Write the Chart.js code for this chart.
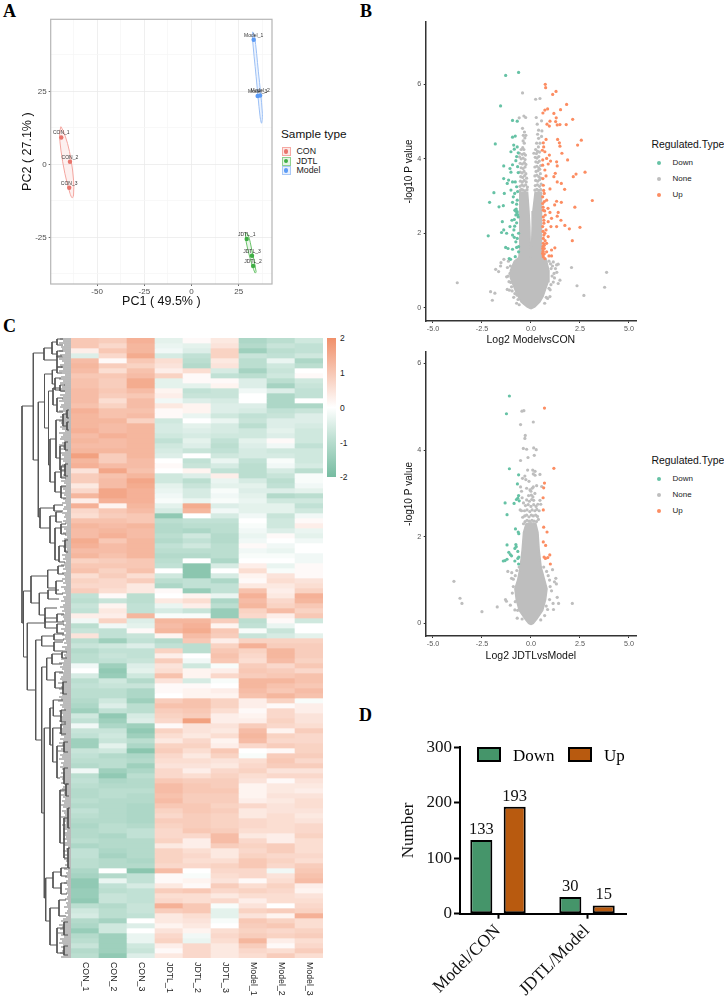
<!DOCTYPE html>
<html>
<head>
<meta charset="utf-8">
<script src="https://cdn.jsdelivr.net/npm/chart.js@4"></script>
<style>
  html, body { margin: 0; padding: 0; background: #fff; }
  #page { position: relative; width: 724px; height: 1001px; overflow: hidden; font-family: 'Liberation Sans', sans-serif; }
  canvas { position: absolute; }
  .t { position: absolute; white-space: nowrap; line-height: 1; }
  .letter { font: bold 18px 'Liberation Serif', serif; }
  .dot { position: absolute; width: 4px; height: 4px; border-radius: 50%; }
  .key { position: absolute; width: 7px; height: 7px; box-sizing: content-box; border: 1px solid; }
  .key i { position: absolute; left: 1.2px; top: 1.2px; width: 4.6px; height: 4.6px; border-radius: 50%; }
  .dbox { position: absolute; width: 20px; height: 11px; border: 2px solid #000; }
</style>
</head>
<body>
<div id="page">
  <div class="t letter" style="left:3px;top:1px">A</div>
  <div class="t letter" style="left:360px;top:1px">B</div>
  <div class="t letter" style="left:3px;top:316px">C</div>
  <div class="t letter" style="left:359px;top:705px">D</div>

  <canvas id="pca"></canvas>
  <div class="t" style="left:281px;top:129px;font-size:11.8px;color:#111">Sample type</div>
  <div class="key" style="left:281.5px;top:147px;border-color:#F6A9A3;background:#FBE9E7"><i style="background:#E8746C"></i></div>
  <div class="key" style="left:281.5px;top:156.5px;border-color:#8FD08F;background:#E6F4E6"><i style="background:#3FAE45"></i></div>
  <div class="key" style="left:281.5px;top:166px;border-color:#A9C8F7;background:#E8F0FC"><i style="background:#5C9BF5"></i></div>
  <div class="t" style="left:296.5px;top:147px;font-size:8.8px;color:#222">CON</div>
  <div class="t" style="left:296.5px;top:156.5px;font-size:8.8px;color:#222">JDTL</div>
  <div class="t" style="left:296.5px;top:166px;font-size:8.8px;color:#222">Model</div>

  <canvas id="volcano1"></canvas>
  <canvas id="volcano2"></canvas>
  <div id="legends"></div>

  <canvas id="dendro"></canvas>
  <canvas id="heat"></canvas>
  <div style="position:absolute;left:327px;top:338px;width:9px;height:139px;background:linear-gradient(#F0906A,#F7C7B4 25%,#fff 50%,#B6DCCD 75%,#76BCA1)"></div>
  <div class="t" style="left:340px;top:334px;font-size:8.5px;color:#222">2</div>
  <div class="t" style="left:340px;top:369px;font-size:8.5px;color:#222">1</div>
  <div class="t" style="left:340px;top:404px;font-size:8.5px;color:#222">0</div>
  <div class="t" style="left:340px;top:439px;font-size:8.5px;color:#222">-1</div>
  <div class="t" style="left:340px;top:473px;font-size:8.5px;color:#222">-2</div>

  <canvas id="bars"></canvas>
  <div class="dbox" style="left:476.5px;top:747px;background:#45956A"></div>
  <div class="t" style="left:513px;top:746px;font:17px 'Liberation Serif',serif">Down</div>
  <div class="dbox" style="left:568px;top:747px;background:#B85A0F"></div>
  <div class="t" style="left:604px;top:746px;font:17px 'Liberation Serif',serif">Up</div>
</div>

<script>
// panel A
const pcaNames = ['CON_1', 'CON_2', 'CON_3', 'JDTL_1', 'JDTL_2', 'JDTL_3', 'Model_1', 'Model_2', 'Model_3'];
const pcaCon = [[-69, 9.2], [-64.4, 0.9], [-64.8, -8]];
const pcaJdtl = [[29.2, -25.6], [32.6, -34.8], [32, -31.3]];
const pcaModel = [[32.9, 42.7], [36.3, 23.6], [35, 23.4]];
const ellipseCon = [[-69.2, 12.9], [-68, 11.5], [-65.7, 7.2], [-63.8, 1.5], [-62.5, -5.4], [-62.5, -10.5], [-63.2, -11.5], [-64.4, -9.9], [-67.1, -3.1], [-69.2, 4.9], [-69.9, 10.6], [-69.2, 12.9]];
const ellipseJdtl = [[28.5, -23.4], [30, -24.2], [31.9, -29.3], [34.2, -36.8], [33.6, -37.2], [31, -32.2], [28.9, -26.5], [28.5, -23.4]];
const ellipseModel = [[32.4, 45.4], [33.3, 44.3], [35.4, 31.7], [37.5, 17.5], [37.1, 14.1], [36.3, 16.3], [34.2, 30], [32.2, 43.7], [32.4, 45.4]];

// panel B, top volcano
const downV1 = [[-1.29,6.24],[-.63,6.32],[-1.55,5.42],[-.94,5.03],[-.7,5.01],[-.94,4.58],[-.8,4.61],[-1.82,4.4],[-.88,4.37],[-.7,4.32],[-.85,4.26],[-1.02,4.19],[-.65,4.16],[-.73,4.06],[-1.39,3.81],[-.94,3.84],[-.77,3.95],[-.68,3.79],[-1.07,3.74],[-1.02,3.64],[-.65,3.63],[-1.39,3.47],[-1.14,3.43],[-1.21,3.34],[-.94,3.38],[-.8,3.38],[-.73,3.25],[-1.89,3.09],[-1.36,3.07],[-2.11,2.83],[-1.63,2.71],[-1.41,2.74],[-1.02,3.16],[-.83,3.07],[-.68,3.12],[-.9,2.98],[-.7,2.89],[-.94,2.83],[-.73,2.78],[-.82,2.62],[-.7,2.58],[-.77,2.49],[-.65,2.44],[-1.46,2.31],[-.97,2.35],[-.85,2.37],[-.73,2.28],[-1.07,2.18],[-.83,2.19],[-1.39,2.09],[-1.5,2.02],[-1.24,2],[-2.18,1.93],[-.94,1.95],[-.85,1.89],[-.7,1.86],[-.63,2],[-.77,1.77],[-1.29,1.62],[-1.17,1.59],[-.94,1.57],[-.73,1.62],[-.63,1.64],[-.8,1.37],[-1.11,1.32],[-1.04,1.3],[-.63,1.5],[-.87,2.09],[-.72,2.55],[-.75,2.65],[-.68,2.5],[-.78,2.6]];
const upV1 = [[.73,6],[.75,5.91],[1.28,5.81],[1.11,5.73],[1.82,5.46],[.85,5.34],[.71,5.31],[.61,5.23],[1.51,5.32],[1.17,5.22],[1.29,5.1],[2.13,5.06],[.97,5.01],[.82,4.93],[.94,4.88],[1.26,5],[1.34,4.91],[1.48,4.92],[1.8,4.92],[1.36,4.52],[2.57,4.5],[2.38,4.37],[1.45,4.43],[1.48,4.34],[.77,4.52],[.63,4.43],[.65,4.32],[.58,4.23],[.71,4.19],[1.58,4.15],[.94,4.1],[.8,4.01],[.6,3.97],[1.87,3.97],[1,3.94],[1.31,3.92],[1.34,3.81],[.88,3.86],[.6,3.83],[.71,3.7],[2.76,3.64],[2.3,3.59],[2.16,3.52],[1.24,3.61],[1.17,3.52],[.77,3.54],[.61,3.47],[1.34,3.38],[1.55,3.34],[.97,3.19],[1.72,3.18],[.63,3.29],[.68,3.07],[3.13,2.88],[2.24,2.7],[1.31,2.86],[1.55,2.83],[1.21,2.76],[.8,2.89],[.68,2.85],[.87,2.67],[.63,2.62],[1.39,2.56],[1.34,2.46],[.97,2.56],[.73,2.49],[1.53,2.35],[1.05,2.4],[2.5,2.16],[1.96,2.12],[1.73,2.21],[1.31,2.18],[1.02,2.18],[.88,2.31],[.66,2.27],[.77,2.09],[.6,2.18],[2.11,1.8],[.88,1.91],[.63,1.86],[.8,1.73],[1.22,1.61],[1.05,1.55],[.68,1.59],[.8,1.5],[.92,1.39],[1.05,1.39],[.63,1.37],[.71,1.32],[.6,1.46],[.6,1.59],[.63,1.73],[.71,2],[.63,2.44],[.6,2.8],[.6,2.98],[.62,1.42],[.68,1.45],[.62,1.52],[.68,1.68],[.62,1.65],[.72,1.8],[.66,1.95],[.62,2.05],[.66,2.35],[.7,2.6],[.62,2.7],[.65,3.15]];
const noneV1 = [[-.43,5.77],[.24,5.6],[.46,5.62],[-.6,5.1],[-.36,5.15],[-.27,5.11],[.27,5.11],[.54,5.02],[.32,4.93],[.39,4.77],[.56,4.75],[-.43,4.82],[-.33,4.72],[-.26,4.63],[-.39,4.63],[.34,4.66],[.54,4.6],[.39,4.55],[.29,4.42],[.46,4.42],[.34,4.2],[.15,4.15],[-.5,4.25],[-.58,4.15],
  [-3.76,.67],[3.86,.95],[3.76,.55],[2.35,.59],[2.7,.33],[2.07,1.08],[-2.06,.43],[-1.84,.39],[-1.97,.2],[-1.8,1.03],[-1.65,.97],[-1.55,1.12],[-1.53,1.21],[-1.38,1.3],[-1.24,.83],[-1.16,.85],[-1.07,.92],[-1.1,.47],[-1.21,.49],[-.99,.56],[-.73,.12],[-.82,.38],[-.72,.34],[1.48,.74],[1.39,.65],[1.31,1.15],[1.39,1.17],[1.14,1.23],[.97,.3],[1.14,.69],
  [-1.15,1.25],[-1.05,1.12],[-1.2,1.08],[-1.12,.7],[-1.03,.68],[-.96,.45],[-.88,.28],[-.66,.22],[-.6,.08],[.7,.12],[.85,.25],[.98,.48],[1.02,.62],[1.08,.85],[1.18,.92],[1.03,1.05],[1.1,1.12],[.92,1.25],[1,1.18],[.78,.28],[.92,.52],[1.25,1.05],[1.32,.95],[1.2,.8],
  [-.55,3.15],[-.48,3.18],[-.4,3.16],[-.3,3.14],[-.2,3.17],[-.56,3.26],[-.46,3.3],[-.37,3.27],[-.27,3.3],[-.18,3.24],[-.54,3.4],[-.44,3.38],[-.34,3.42],[-.24,3.38],[-.52,3.52],[-.42,3.5],[-.32,3.55],[-.22,3.48],[-.55,3.64],[-.45,3.62],[-.35,3.66],[-.26,3.6],[-.5,3.76],[-.4,3.74],[-.3,3.78],[-.55,3.88],[-.44,3.86],[-.34,3.9],[-.26,3.85],[-.5,4],[-.4,4.02],[-.3,3.98],[-.58,4.05],[-.44,4.12],[-.35,4.14],[-.28,4.1],[-.42,4.3],[-.36,4.25],[-.34,4.42],[-.4,4.48],[-.31,4.56],
  [.2,3.16],[.3,3.18],[.4,3.15],[.5,3.17],[.22,3.28],[.33,3.3],[.44,3.26],[.52,3.32],[.24,3.42],[.34,3.4],[.44,3.44],[.5,3.48],[.2,3.54],[.3,3.56],[.4,3.52],[.48,3.6],[.26,3.66],[.36,3.68],[.45,3.72],[.2,3.78],[.3,3.8],[.4,3.76],[.5,3.82],[.25,3.92],[.35,3.9],[.43,3.94],[.22,4.04],[.31,4.02],[.4,4.06],[.28,4.14],[.44,4.18],[.24,4.25],[.38,4.32]];
const cloudV1 = [[0,-.03],[.2,.02],[.45,.15],[.62,.3],[.75,.5],[.88,.7],[.92,1],[.78,1.3],[.55,1.35],[.55,2],[.53,3.1],[.21,3.1],[.1,2.6],[.06,2.2],[.03,1.6],[0,1.35],[-.03,1.6],[-.06,2.2],[-.1,2.6],[-.17,3.1],[-.57,3.1],[-.58,2.5],[-.56,1.6],[-.62,1.35],[-.85,1.25],[-1.05,1],[-1.05,.8],[-.9,.6],[-.75,.4],[-.5,.15],[-.2,.02],[0,-.03]];

// panel B, lower volcano
const downV2 = [[-1.1,5.25],[-1.25,4.84],[-1.1,3.57],[-.63,3.43],[-.69,3.22],[-.63,2.95],[-.74,2.86],[-.67,2.89],[-.6,2.83],[-.86,2.77],[-1.32,2.78],[-1.22,2.51],[-.79,2.18],[-.65,2.11],[-.62,2.07],[-1.22,1.81],[-.77,1.82],[-.75,1.77],[-.82,1.73],[-.67,1.66],[-1.13,1.64],[-1.05,1.59],[-.99,1.56],[-.62,1.53],[-.67,1.5],[-1.22,1.48],[-1.32,1.45],[-1.41,1.44],[-.82,1.44],[-.63,1.37]];
const upV2 = [[.69,4.97],[1.17,3.58],[.69,3.24],[.65,3.13],[.62,2.9],[.63,2.62],[.65,2.22],[.82,2.11],[.63,1.88],[.75,1.8],[.96,1.58],[.67,1.53],[.74,1.5],[.86,1.52],[.99,1.37]];
const noneV2 = [[-3.93,.97],[-3.62,.58],[-3.52,.46],[-2.5,.27],[-1.72,.38],[2.11,.46],[1.34,.6],[1.41,.46],[1.13,.46],[1.15,.32],[1.27,1.04],[1.3,.91],[1.2,.96],[1.1,1.24],[-1.18,1.2],[-.98,1.17],[-.99,1.04],[-1.3,.55],[-1.25,.51],[-1.05,.42],[-.82,.31],[-.7,.12],
  [-.46,4.9],[-.36,4.91],[.12,4.65],[-.53,4.59],[-.29,4.34],[-.31,4.27],[-.39,4.04],[-.22,4.02],[.14,4.05],[.27,4.01],[.17,3.88],[-.15,3.83],[-.53,3.76],[-.17,3.54],[.09,3.54],[.21,3.51],[.46,3.44],[.12,3.45],[.21,3.42],[-.31,3.4],[-.43,3.35],[-.26,3.32],[-.1,3.28],[-.53,3.15],[-.48,3.05],[.55,3.16],[.29,3.18],[.12,3.15],[-.22,3.12],[-.05,3.08],[.2,3],[.46,2.84],[.5,2.75],[-.45,2.9],[-.38,2.78],[.35,2.75],[-.55,2.62],[-.48,2.6],[.42,2.6],[-.42,2.45],[.38,2.4],[-.38,2.3],
  [-.9,1.02],[-.8,1.1],[-.72,1.22],[-.9,.85],[-.95,.7],[.95,1],[.88,1.1],[.8,1.2],[.98,.85],[1.05,.75],[.95,.55],[.78,.4],[.85,.32],[-.8,.5],[-.68,.3],[.7,.18],[.5,.08],[-.45,.1],[.65,1.3],[-.6,1.3],
  [-.3,2.35],[-.2,2.38],[-.08,2.36],[.05,2.38],[.16,2.36],[.28,2.35],[-.32,2.48],[-.22,2.5],[-.1,2.46],[.02,2.5],[.12,2.48],[.24,2.5],[.33,2.47],[-.33,2.6],[-.2,2.62],[-.06,2.58],[.06,2.62],[.2,2.6],[.3,2.63],[-.28,2.72],[-.14,2.74],[0,2.7],[.14,2.74],[.26,2.7],[-.22,2.85],[-.08,2.82],[.04,2.86],[.14,2.84],[-.12,2.95],[.02,2.96],[.1,2.92],[0,3.05],[.06,3.12]];
const cloudV2 = [[0,-.03],[.12,0],[.3,.1],[.6,.3],[.75,.55],[.82,.8],[.7,1],[.52,1.3],[.42,1.7],[.36,2.1],[.25,2.3],[0,2.32],[-.25,2.3],[-.38,2.1],[-.45,1.7],[-.55,1.3],[-.68,1],[-.82,.8],[-.75,.55],[-.6,.3],[-.3,.1],[-.12,0],[0,-.03]];

// panel C, z scores per row: CON x3, JDTL x3, Model x3
const heatColumns = ['CON_1', 'CON_2', 'CON_3', 'JDTL_1', 'JDTL_2', 'JDTL_3', 'Model_1', 'Model_2', 'Model_3'];
const heatRows = [
  [1,.9,1.4,-.4,.1,.4,-1.2,-1,-.7],
  [1,.7,1.3,-.3,-.4,.5,-1.1,-.8,-.9],
  [.3,1,1.3,-.2,-.5,.8,-1.4,-1,-.9],
  [-.5,.7,1.5,-.6,-.9,.8,-.8,-.9,-.7],
  [1.2,.1,1,.6,-1,.4,-1,-.3,-1.2],
  [1.3,.9,.8,.5,-1.1,.5,-1,-.7,-1],
  [1.2,.6,1.1,.3,.6,-.6,-1.3,-.8,0],
  [1,1,1.2,.8,.1,-.9,-1,-.7,.1],
  [1.1,.9,1.5,-.4,.1,.1,-.5,-1,-.7],
  [1.1,.9,1.5,-.4,-.4,.2,-.5,-1.3,-.8],
  [1.2,1,1.2,.2,-.9,-.8,-.2,-.5,-.9],
  [1.2,.9,1,.3,-.8,-.8,0,-1.2,-.9],
  [1.2,.6,1.2,-.2,-.5,-.6,0,-1.2,0],
  [1.1,.8,1.2,.4,.2,-.5,-.5,-1.2,-1.2],
  [1.4,1.1,1.1,.1,.2,-.5,-.6,-.9,-.8],
  [1.3,1.1,1.2,.1,-.3,-.7,-.9,-.8,-.5],
  [1.3,1.3,.8,-.7,0,-.3,-.8,-.5,-.5],
  [1.3,1.2,1.3,-.6,-.4,-.6,-1,-.5,-.6],
  [1.4,1.2,1.3,-.6,-.5,-.6,-.7,-.4,-.7],
  [1.2,1.4,1.3,-.7,-.6,-.7,-.7,-.5,-.7],
  [1.3,1.2,1.3,-.9,-.4,-.9,-.4,.1,-.7],
  [1.2,1.2,1.3,-.7,-.5,-1,-.5,-.2,-.9],
  [1.3,1.3,1.3,-.6,-.8,-.9,-.6,-.7,-.7],
  [1.7,.9,1.3,-.5,0,-.7,-.6,-.6,-.7],
  [1.3,.9,1.2,0,-.9,-.3,-.9,-.1,-.7],
  [1.4,1.2,1.2,.1,-.8,-.6,-1,-.2,-.6],
  [.5,1.6,1.1,0,.2,-.9,-1,-.6,-1],
  [.9,1.1,1.3,-.7,-.5,.3,-1,-.8,-.1],
  [.9,1.2,1.6,-.7,-1,-.3,-.6,-1,-.1],
  [.4,1.2,1.5,-.4,-.8,-.4,-.4,-.9,-.2],
  [.7,1.6,1.4,-.3,-.6,-.1,-.5,-.5,-.4],
  [1.3,1.6,1.4,-.2,-.6,-.2,-.4,-1.1,-1],
  [.3,1.4,1.4,-.1,-.3,-.1,-.3,-.7,-.7],
  [1.4,.2,1.3,-.4,1.5,-.5,-.4,-.4,-.9],
  [.7,1,1.2,-.6,1.3,-.2,-.4,-.4,-.7],
  [.6,.9,1,-1.6,0,-.6,-.2,-.8,-.2],
  [1.1,1.1,1,-1,-.9,-.9,0,-.7,.1],
  [1.3,1.2,1.3,-1.1,-1,-1,-.1,-.7,.3],
  [1.2,1.3,1.2,-1.1,-1.2,-1,-.2,-.5,-.3],
  [1.2,1.4,1.2,-1,-.7,-1.1,-.3,.1,-.4],
  [1.5,1,1.3,-1.1,-.9,-1.1,-.2,0,-.2],
  [1.4,1.2,1.3,-.9,-.7,-1,.1,-.2,0],
  [1.2,1.2,1.3,-1,-1,-1,-.2,-.3,0],
  [1.3,1.1,1.3,-1.1,-1.1,-1,-.1,-.1,-.2],
  [.8,.9,1,-1,0,-1.2,0,0,-.2],
  [1,1,1,-.9,-1.7,-.6,.3,-.3,.1],
  [1.1,.8,1.1,0,-1.7,0,.6,-.1,.1],
  [.6,.9,.6,-.7,-1.7,-.6,.2,.5,.1],
  [.8,.7,.9,-1,-.9,-1.2,.1,.6,.5],
  [.7,.7,.4,-1.2,-.9,-.9,.4,.4,.6],
  [.9,.6,.4,.1,-1.5,-.9,1.1,.3,.8],
  [-.9,.1,-1,0,.2,-.3,1.4,.4,1.4],
  [-1,-.8,-1,.4,.6,-1.2,1.2,.7,1.3],
  [-.8,.2,-.9,-.3,.3,-1,1.3,.8,1],
  [-.9,.4,-.9,-.6,-.8,-1.5,.8,1.2,.8],
  [.3,.3,1.3,-.1,-.1,-1.5,.7,.3,1],
  [-.2,.8,-.5,1.3,1.3,.9,-1,.1,-.7],
  [-1,-.2,-.4,1.2,1.4,.2,-.9,-.3,0],
  [-.8,-.9,.1,1.3,1.5,1,-.1,-.8,0],
  [.5,-.9,-.8,.2,1.2,.9,-.8,-.6,-.4],
  [-1,-1.4,-.9,-1.1,1,.3,.8,.8,.8],
  [-.8,-.7,-.5,-.9,-1,.8,1.4,.9,.9],
  [-1.1,-.9,-.9,.8,-1,1,.8,1.3,.9],
  [-1,-.8,-.9,.3,0,1.1,.7,1.3,.9],
  [-1,-.9,-.8,.9,-.2,1,.6,1.2,.8],
  [-.2,-1.4,-.5,.5,-.7,-.1,.9,.7,1],
  [0,-1.6,-.4,.6,.2,.3,1,.9,.7],
  [-.6,-1.5,-.7,1.1,.2,.7,.9,1,1.1],
  [-1,-.7,-1.1,.5,-.6,-.1,1.3,1.3,1.1],
  [-.9,-.8,-.8,.1,.1,0,1.3,1.1,1],
  [-1,-1,-1.2,.1,.2,.3,1.2,1,1.2],
  [-1,-1,-1.2,0,.2,.2,1.1,1.3,1.1],
  [-1.1,-.7,-1.4,.9,1.1,.8,.3,.8,-.1],
  [-1.2,-.5,-1,1.1,1.1,.8,.3,.1,.3],
  [-1.4,-.9,-1,.9,1,.6,.1,.7,.3],
  [-.7,-1.6,-.6,.8,.9,.3,.2,.7,.5],
  [-.9,-1.4,-.5,.7,1.7,.3,.3,.8,.5],
  [-.2,-1.2,-1.4,.1,.5,.5,.9,.7,.6],
  [-.8,-.8,-1.6,.8,.5,.4,1.2,.2,.9],
  [-.9,-.7,-1.4,.6,.4,.6,1.3,.8,.7],
  [-1.4,-.8,-1,.4,.7,.2,1.2,.7,.7],
  [-1.4,-.4,-1.2,.8,.8,.3,.7,.9,.8],
  [-.8,-.7,-1.7,.9,.6,1,0,.1,.8],
  [-.9,-1.1,-1.2,.7,.4,.8,-.1,.9,.9],
  [-1,-1,-1.1,.6,.6,.5,.6,1,.7],
  [-1.1,-1,-1.4,.5,.5,.4,.7,.9,.9],
  [-.2,-1.4,-1.2,.7,.3,.7,.8,.5,.5],
  [-1,-1.6,-1,.7,.6,.8,.6,.7,.7],
  [-.9,-1.2,-1.1,1,.9,.9,.5,.1,.5],
  [-1,-1.1,-1.1,1.2,1,.9,.2,.4,.4],
  [-1.1,-1,-1,1.2,1,1,.2,.4,.3],
  [-1.1,-1,-1.1,1.1,.9,.9,.2,.5,.5],
  [-1,-1.1,-1.1,1.2,.9,.9,.3,.4,.6],
  [-1.1,-1.1,-1.2,1,1,.8,.7,.5,.6],
  [-.9,-1.1,-1.2,.8,1,.9,.4,.5,.5],
  [-1,-1.1,-1.2,.7,.9,.8,.4,.6,.4],
  [-1.1,-1.1,-1.2,.9,.9,.8,.7,.6,.5],
  [-1.2,-1,-1.1,.8,.9,.8,.7,.6,.7],
  [-1.1,-1,-.9,.7,1,.9,.6,.6,.7],
  [-1.1,-1.2,-.9,.7,.7,1.2,.4,.3,.8],
  [-1,-1.1,-1.1,.8,.3,1.2,.7,.3,.6],
  [-1.2,-1.1,-1.1,.4,.3,.9,.8,.9,.6],
  [-.9,-1.2,-1.1,.8,.6,.4,.7,.9,.6],
  [-.9,-1.3,-1.1,.8,.7,.4,.8,.7,.7],
  [-1,-1.1,-1.2,.8,.6,.6,1,.8,.6],
  [-1,-1.1,-1.1,.7,.7,.8,1,.7,.9],
  [-1.2,0,-1.7,1.2,0,.7,.7,-.2,1],
  [-1.3,-1.1,-.9,.1,-.1,.6,.7,.5,1.1],
  [-1.6,-.3,-.9,.1,.2,.5,.1,.6,1.2],
  [-1.6,-.9,-.6,.4,.1,.9,.6,.8,.3],
  [-1.5,-1,-.9,.9,1,.7,.8,.7,.2],
  [-1.5,-.8,-.9,.6,.6,.4,.6,.6,.5],
  [-1.6,-.8,-.9,.7,.6,.7,.3,.6,.6],
  [-1,-1.1,-.8,1.4,1,-.1,.5,0,.7],
  [-.7,-1,-.8,.9,1,-.4,.8,.9,.8],
  [-.6,-1,-.9,.4,.6,-.4,.5,.2,1.4],
  [-1.1,-1.3,0,.4,.5,-.1,1,.8,.6],
  [-1.2,-.7,-.5,.2,.4,0,.9,1,.6],
  [-1.5,-.7,0,.5,.2,.6,.8,.7,.8],
  [-1.1,-1.4,-.3,.7,-.2,.7,.9,.8,.9],
  [-1,-1.4,-.3,.8,-.3,.6,1.3,.3,.6],
  [-.8,-1.4,-.7,.3,.7,.4,.9,.1,.7],
  [-1.1,-1.4,-.8,.1,.7,.4,.7,.6,.9],
  [-1,-1.6,-.5,.4,.7,.4,.6,.9,.6]
];

// dendrogram: each bracket is [node height, top row, top child height, bottom row, bottom child height]
const dendroBrackets = [
  [49,68,37.7,285,47.5],[37.7,15,27,122,32.7],[27,10,19,22,14],[19,4,14,16,14],[14,1,8,7,8],[14,13,8,19,8],[14,18,9,29,9],
  [32.7,64,26.5,179,31],[26.5,36,18.7,90,22.5],[18.7,32,14,46,16],[14,29,8,35,9],[16,40,10,52,10],
  [22.5,53,18,127,21],[18,50,11,67,14],[14,60,8,74,8],[11,47,6,53,6],[21,101,15,144,16],[15,82,8,120,11],[8,76,4,88,4],[11,108,6,132,6],[6,104,3,112,3],[6,126,3,138,3],[4,72,2,80,2],[4,84,2,92,2],
  [16,134,10,154,10],[10,128,5,140,5],[10,148,5,160,5],[31,170,17,190,21],[17,167,8,173,8],[21,178,15,205,16],[15,174,9,184,9],[16,190,10,222,12],[10,186,5,196,5],[12,208,6,224,6],[6,202,3,214,3],
  [47.5,253,40,319,43.7],[40,238,23.3,265,31.7],[23.3,232,13,250,15],[13,228,7,236,7],[15,243,8,256,8],[31.7,255,23,277,26],[23,252,12,261,12],[26,270,14,284,14],
  [43.7,285,26,352,35.3],[26,280,14,290,14],[14,276,7,284,7],[14,286,7,295,7],[35.3,302,29.3,402,29.3],[29.3,298,17,308,17],[17,296,7,302,7],[17,304,8,313,8],
  [29.3,329,24.3,475,26.7],[24.3,320,19,342,16],[19,316,9,326,9],[16,334,8,350,8],[9,314,4,320,4],[8,344,4,356,4],
  [26.7,390,21,560,25.3],[21,370,17.7,407,18.3],[17.7,362,8,378,10],[10,372,5,384,5],[18.3,390,10,424,14],[10,386,5,396,5],[14,408,7,440,11],[7,404,3,414,3],[7,430,3,446,3],[11,452,5,505,7],[5,446,2,458,2],[7,480,3,520,3],[3,470,1,490,1],[3,510,1,530,1],
  [25.3,540,18,583,21],[18,534,10,550,10],[10,530,4,538,4],[10,545,4,556,4],[21,570,12,607,14],[12,562,5,578,5],[14,590,7,615,7],[7,584,3,597,3],[7,608,3,617,3]
];
const dendroLeaves = [
  11,8,12,7,10,9,12,6,11,8, 12,9,7,11,10,8,12,9,6,10, 12,8,11,7,9,12,10,6,11,8, 9,12,7,10,11,8,12,6,9,11,
  8,12,10,7,11,9,6,12,8,10, 11,7,9,12,8,10,6,11,9,7, 10,8,6,9,11,7,10,5,8,9, 6,10,7,5,9,8,6,10,7,5,
  8,6,9,5,7,8,4,9,6,7, 5,8,6,4,9,7,5,8,6,4, 7,9,5,6,8,4,7,5,9,6, 8,5,7,10,6,8,5,9,7,6,
  9,6,8,5,10,7,6,9,5,8, 7,10,6,8,11,7,9,6,10,8, 7,9,5,8,6,10,7,5,9,6, 8,5,7,4,9,6,8,5,7,6,
  10,7,12,8,11,9,7,12,8,10, 11,9,13,8,10,12,7,11,9,12, 10,13,8,11,9,7,12,10,8,11, 9,12,7,10,8,11,9,12,10,7,
  11,8,12,9,7,10,13,8,11,9, 12,7,10,8,11,9,6,10,8,11, 9,7,10,6,8,9,11,7,10,8, 6,9,7,10,8,5,9,7,6,10,
  8,7,5,9,6,8,4,7,6,5, 8,4,6,7,3,5,8,4,6,3, 7,5,3,6,4,7,3,5,4,6, 3,5,7,4,3,6,4,5,3,4,
  6,3,5,4,7,3,4,6,3,5, 8,10,7,12,9,11,8,13,10,7, 11,9,12,8,10,7,9,11,8,10, 12,9,7,10,8,11,9,6,10,8
];

// panel D
const barGroups = ['Model/CON', 'JDTL/Model'];
const barDown = [133, 30];
const barUp = [193, 15];

const sans = 'Liberation Sans, sans-serif';
const serif = 'Liberation Serif, serif';

// put a canvas on the page and make the plot area land on the given box
function frame(id, canvasBox, area) {
  const el = document.getElementById(id);
  el.width = canvasBox[2] - canvasBox[0];
  el.height = canvasBox[3] - canvasBox[1];
  el.style.left = canvasBox[0] + 'px';
  el.style.top = canvasBox[1] + 'px';
  return {
    el,
    padding: { left: 0, top: area[1] - canvasBox[1], right: canvasBox[2] - area[2], bottom: 0 },
    yWidth: area[0] - canvasBox[0],
    xHeight: canvasBox[3] - area[3]
  };
}

Chart.defaults.animation = false;
Chart.defaults.responsive = false;
Chart.defaults.plugins.legend.display = false;
Chart.defaults.plugins.tooltip.enabled = false;

// PCA
const fa = frame('pca', [20, 10, 276, 309], [50.7, 19.3, 272.7, 284]);
const scatterDot = (data, color) => ({ data, pointRadius: 2.2, pointBackgroundColor: color, pointBorderWidth: 0, showLine: false, order: 1 });
const ellipse = (data, color, fillColor) => ({ data, showLine: true, fill: 'shape', tension: 0.35, borderColor: color, borderWidth: 1, backgroundColor: fillColor, pointRadius: 0, order: 2 });
const gridAt = (step, major, minor) => ctx => (Math.abs(ctx.tick.value % step) < 1e-6 ? major : minor);
new Chart(fa.el, {
  type: 'scatter',
  data: {
    datasets: [
      scatterDot(pcaCon, '#E8746C'), scatterDot(pcaJdtl, '#3FAE45'), scatterDot(pcaModel, '#5C9BF5'),
      ellipse(ellipseCon, '#F4A6A0', 'rgba(240,130,120,0.12)'),
      ellipse(ellipseJdtl, '#6CC46C', 'rgba(70,180,70,0.12)'),
      ellipse(ellipseModel, '#9CC0F5', 'rgba(100,155,245,0.12)')
    ]
  },
  options: {
    layout: { padding: fa.padding },
    scales: {
      x: {
        min: -74.6, max: 42.6,
        afterFit: s => { s.height = fa.xHeight; },
        border: { display: false },
        grid: { color: gridAt(25, '#EBEBEB', '#F6F6F6'), tickLength: 2, tickColor: gridAt(25, '#444', 'rgba(0,0,0,0)'), lineWidth: 0.8 },
        ticks: { stepSize: 12.5, includeBounds: false, autoSkip: false, maxRotation: 0, padding: 1, color: '#4D4D4D', font: { family: sans, size: 8 }, callback: v => (v % 25 === 0 ? v : '') },
        title: { display: true, text: 'PC1 ( 49.5% )', color: '#111', padding: 0, font: { family: sans, size: 12.5 } }
      },
      y: {
        min: -41, max: 49.7,
        afterFit: s => { s.width = fa.yWidth; },
        border: { display: false },
        grid: { color: gridAt(25, '#EBEBEB', '#F6F6F6'), tickLength: 2, tickColor: gridAt(25, '#444', 'rgba(0,0,0,0)'), lineWidth: 0.8 },
        ticks: { stepSize: 12.5, includeBounds: false, autoSkip: false, padding: 2, color: '#4D4D4D', font: { family: sans, size: 8 }, callback: v => (v % 25 === 0 ? v : '') },
        title: { display: true, text: 'PC2 ( 27.1% )', color: '#111', padding: 0, font: { family: sans, size: 12.5 } }
      }
    }
  },
  plugins: [{
    id: 'pcaExtras',
    afterDatasetsDraw(chart) {
      const { ctx, chartArea: a } = chart;
      ctx.save();
      ctx.font = '5px ' + sans;
      ctx.fillStyle = '#333';
      ctx.textAlign = 'center';
      [0, 1, 2].forEach(d => chart.getDatasetMeta(d).data.forEach((pt, i) => {
        ctx.fillText(pcaNames[d * 3 + i], pt.x, pt.y - 3);
      }));
      ctx.strokeStyle = '#B5B5B5';
      ctx.lineWidth = 1.2;
      ctx.strokeRect(a.left, a.top, a.right - a.left, a.bottom - a.top);
      ctx.restore();
    }
  }]
});

// volcano plots
function volcano(id, canvasBox, area, yRange, xLabel, down, none, up, cloud) {
  const f = frame(id, canvasBox, area);
  const dots = (data, color, order) => ({ data, pointRadius: 1.6, pointBackgroundColor: color, pointBorderWidth: 0, showLine: false, order });
  return new Chart(f.el, {
    type: 'scatter',
    data: {
      datasets: [
        dots(down, '#66C2A5', 1), dots(up, '#FC8D62', 1), dots(none, '#BEBEBE', 2),
        { data: cloud, showLine: true, fill: 'shape', borderColor: '#BEBEBE', borderWidth: 1.5, backgroundColor: '#BEBEBE', pointRadius: 0, order: 3 }
      ]
    },
    options: {
      layout: { padding: f.padding },
      scales: {
        x: {
          min: -5.37, max: 5.36,
          afterFit: s => { s.height = f.xHeight; },
          border: { color: '#333', width: 1.5 },
          grid: { drawOnChartArea: false, tickLength: 2, tickColor: '#333' },
          ticks: { stepSize: 2.5, includeBounds: false, autoSkip: false, maxRotation: 0, padding: 2, color: '#555', font: { family: sans, size: 7.2 }, callback: v => v.toFixed(1) },
          title: { display: true, text: xLabel, color: '#111', padding: 0, font: { family: sans, size: 10.5 } }
        },
        y: {
          min: yRange[0], max: yRange[1],
          afterFit: s => { s.width = f.yWidth; },
          border: { color: '#333', width: 1.5 },
          grid: { drawOnChartArea: false, tickLength: 2, tickColor: '#333' },
          ticks: { stepSize: 2, includeBounds: false, autoSkip: false, padding: 2.5, color: '#555', font: { family: sans, size: 7.2 } },
          title: { display: true, text: '-log10 P value', color: '#111', padding: 0, font: { family: sans, size: 10 } }
        }
      }
    }
  });
}
volcano('volcano1', [403, 15, 640, 346], [425.7, 21.7, 636, 321], [-0.357, 7.68], 'Log2 ModelvsCON', downV1, noneV1, upV1, cloudV1);
volcano('volcano2', [403, 345, 640, 662], [425.7, 351, 636, 636], [-0.292, 6.27], 'Log2 JDTLvsModel', downV2, noneV2, upV2, cloudV2);

// the two volcano legends
const legendRows = [['Down', '#66C2A5'], ['None', '#BEBEBE'], ['Up', '#FC8D62']];
[[139.5, 162.7], [456, 479]].forEach(([titleTop, firstRow]) => {
  let html = `<div class="t" style="left:651.5px;top:${titleTop}px;font-size:10.4px;color:#111">Regulated.Type</div>`;
  legendRows.forEach((row, i) => {
    const y = firstRow + i * 16.1;
    html += `<div class="dot" style="left:657px;top:${y - 2}px;background:${row[1]}"></div>`;
    html += `<div class="t" style="left:672.5px;top:${y - 4}px;font-size:8px;color:#222">${row[0]}</div>`;
  });
  document.getElementById('legends').insertAdjacentHTML('beforeend', html);
});

// dendrogram
const gap = { x: NaN, y: NaN };
const branchPoints = [];
dendroBrackets.forEach(([h, rTop, hTop, rBot, hBot]) => {
  branchPoints.push({ x: hTop, y: rTop }, { x: h, y: rTop }, { x: h, y: rBot }, { x: hBot, y: rBot }, gap);
});
const leafPoints = [];
dendroLeaves.forEach((h, i) => {
  leafPoints.push({ x: h, y: i * 2 + 1 }, { x: 0, y: i * 2 + 1 }, gap);
});
const fd = frame('dendro', [15, 338, 71, 958], [15, 338, 71, 958]);
new Chart(fd.el, {
  type: 'scatter',
  data: {
    datasets: [
      { data: branchPoints, showLine: true, spanGaps: false, borderColor: '#555', borderWidth: 1, pointRadius: 0 },
      { data: leafPoints, showLine: true, spanGaps: false, borderColor: '#666', borderWidth: 0.9, pointRadius: 0 }
    ]
  },
  options: {
    layout: { padding: 0 },
    scales: {
      x: { display: false, min: 0, max: 56, reverse: true },
      y: { display: false, min: 0, max: 620, reverse: true }
    }
  }
});

// heatmap: stacked unit bars, one dataset per row
const warm = [240, 144, 106];
const cool = [118, 188, 161];
function heatColor(v) {
  const t = Math.min(Math.abs(v) / 2, 1);
  const c = v >= 0 ? warm : cool;
  return `rgb(${c.map(k => Math.round(255 + (k - 255) * t)).join(',')})`;
}
const heatEl = document.getElementById('heat');
heatEl.width = 252;
heatEl.height = 664;
heatEl.style.left = '71px';
heatEl.style.top = '338px';
new Chart(heatEl, {
  type: 'bar',
  data: {
    labels: heatColumns,
    datasets: heatRows.map(row => ({
      data: row.map(() => 1),
      backgroundColor: row.map(heatColor),
      borderWidth: 0,
      barPercentage: 1,
      categoryPercentage: 1
    }))
  },
  options: {
    layout: { padding: { bottom: 44 } },
    scales: {
      x: { display: false, stacked: true },
      y: { display: false, stacked: true, min: 0, max: heatRows.length, reverse: true }
    }
  },
  plugins: [{
    id: 'columnNames',
    afterDraw(chart) {
      const { ctx, chartArea: a, scales } = chart;
      ctx.save();
      ctx.font = '8.8px ' + sans;
      ctx.fillStyle = '#222';
      ctx.textAlign = 'left';
      ctx.textBaseline = 'middle';
      heatColumns.forEach((name, i) => {
        ctx.save();
        ctx.translate(scales.x.getPixelForValue(i), a.bottom + 4);
        ctx.rotate(Math.PI / 2);
        ctx.fillText(name, 0, 0);
        ctx.restore();
      });
      ctx.restore();
    }
  }]
});

// bar chart
const fb = frame('bars', [398, 735, 640, 1001], [460, 747.3, 626, 913.7]);
const barSet = (values, color) => ({
  data: values.map((v, i) => ({ x: i + 1, y: v })),
  backgroundColor: color,
  borderColor: '#000',
  borderWidth: 2,
  borderSkipped: false,
  categoryPercentage: 0.75,
  barPercentage: 0.66
});
new Chart(fb.el, {
  type: 'bar',
  data: { datasets: [barSet(barDown, '#45956A'), barSet(barUp, '#B85A0F')] },
  options: {
    layout: { padding: fb.padding },
    scales: {
      x: {
        type: 'linear', offset: false, min: 0.573, max: 2.438,
        afterFit: s => { s.height = fb.xHeight; },
        border: { color: '#000', width: 2 },
        grid: { offset: false, drawOnChartArea: false, tickLength: 5, tickColor: '#000', tickWidth: 2 },
        ticks: { stepSize: 1, includeBounds: false, minRotation: 45, maxRotation: 45, padding: 2, color: '#111', font: { family: serif, size: 17.5 }, callback: v => barGroups[v - 1] }
      },
      y: {
        min: 0, max: 300,
        afterFit: s => { s.width = fb.yWidth; },
        border: { color: '#000', width: 2 },
        grid: { drawOnChartArea: false, tickLength: 6, tickColor: '#000', tickWidth: 2 },
        ticks: { stepSize: 100, padding: 2, color: '#111', font: { family: serif, size: 17 } },
        title: { display: true, text: 'Number', color: '#111', padding: 0, font: { family: serif, size: 17 } }
      }
    }
  },
  plugins: [{
    id: 'barValues',
    afterDatasetsDraw(chart) {
      const { ctx } = chart;
      ctx.save();
      ctx.font = '16.5px ' + serif;
      ctx.fillStyle = '#111';
      ctx.textAlign = 'center';
      chart.data.datasets.forEach((ds, d) => chart.getDatasetMeta(d).data.forEach((bar, i) => {
        ctx.fillText(ds.data[i].y, bar.x, bar.y - 6);
      }));
      ctx.restore();
    }
  }]
});
</script>
</body>
</html>
